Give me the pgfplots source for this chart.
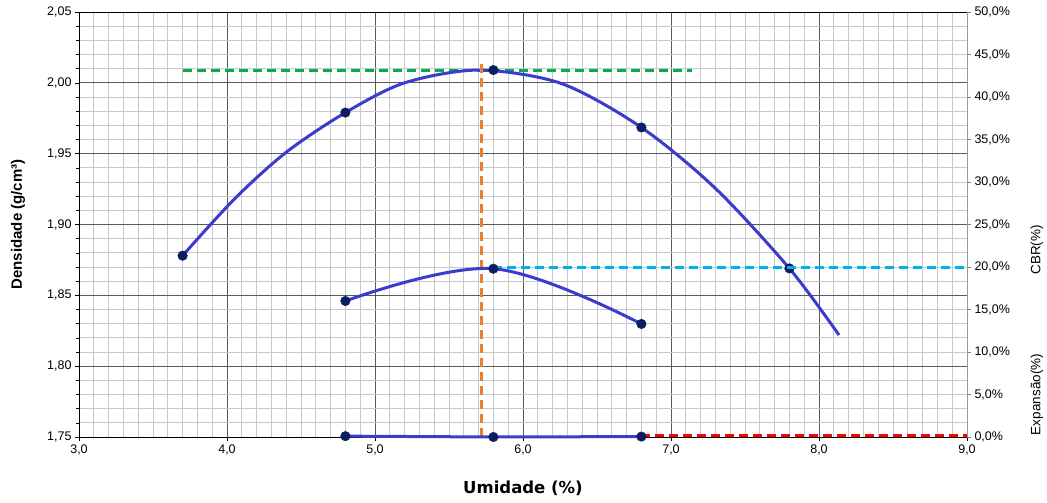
\documentclass[border=0pt]{standalone}
\usepackage{fontspec}
\setmainfont{Liberation Sans}
\newfontfamily\dejavu{DejaVu Sans}
\usepackage{pgfplots}
\pgfplotsset{compat=1.18}
\definecolor{curve}{HTML}{3B3BCC}
\definecolor{mk}{HTML}{0B1F5E}
\definecolor{grn}{HTML}{00B050}
\definecolor{org}{HTML}{ED7D31}
\definecolor{cyn}{HTML}{00B0F0}
\definecolor{redd}{HTML}{FF0000}
\definecolor{majgrid}{HTML}{5A5A5A}
\definecolor{mingrid}{HTML}{C8C8C8}
\begin{document}
\begin{tikzpicture}
\begin{axis}[name=main, scale only axis, width=888pt, height=425pt,
  xmin=3, xmax=9, ymin=1.75, ymax=2.05,
  xtick={3,4,5,6,7,8,9}, ytick={1.75,1.80,1.85,1.90,1.95,2.00,2.05},
  minor x tick num=9, minor y tick num=4,
  grid=both,
  major grid style={draw=majgrid, line width=0.7pt},
  minor grid style={draw=mingrid, line width=0.7pt},
  axis line style={black, line width=0.9pt},
  xtick pos=bottom, ytick pos=left, tick align=outside,
  major tick length=4pt, minor tick length=3pt,
  minor x tick style={draw=none},
  tick style={black, line width=0.6pt},
  /pgf/number format/assume math mode=true,
  ticklabel style={font=\fontsize{12.5}{14}\selectfont},
  xticklabel style={/pgf/number format/.cd, fixed, fixed zerofill, precision=1, use comma},
  yticklabel style={/pgf/number format/.cd, fixed, fixed zerofill, precision=2, use comma},
  xlabel={\dejavu\bfseries Umidade (\%)},
  xlabel style={at={(axis description cs:0.5,-0.12)}, anchor=center, font=\fontsize{16.5}{18}\selectfont},
  ylabel={\bfseries Densidade (g/cm³)},
  ylabel style={at={(axis description cs:-0.0687,0.5)}, anchor=center, font=\fontsize{15}{17}\selectfont},
]
% green dashed (max density)
\addplot[grn, line width=3pt, dash pattern=on 9pt off 5pt] coordinates {(3.7,2.009) (7.14,2.009)};
% density curve
\addplot[curve, line width=3pt, smooth, tension=0.5] coordinates {
  (3.7,1.878) (4.05,1.918) (4.4,1.951) (4.8,1.979) (5.2,2.000) (5.7,2.009)
  (6.26,1.9995) (6.8,1.9685) (7.3,1.9255) (7.8,1.869) (8.135,1.822)};
% orange vertical dashed (optimum moisture)
\addplot[org, line width=3pt, dash pattern=on 9pt off 5pt] coordinates {(5.72,1.75) (5.72,2.014)};
% density markers
\addplot[only marks, mark=*, mark size=4.8pt, mk, mark options={fill=mk}] coordinates {
  (3.7,1.878) (4.8,1.979) (5.8,2.009) (6.8,1.9685) (7.8,1.869)};
\end{axis}
\begin{axis}[scale only axis, width=888pt, height=425pt,
  xmin=3, xmax=9, ymin=0, ymax=50, clip=false,
  axis x line=none, axis y line*=right,
  y axis line style={draw=gray!80, line width=0.9pt},
  ytick={0,5,...,50}, tick align=outside, major tick length=4pt,
  tick style={gray, line width=0.6pt},
  /pgf/number format/assume math mode=true,
  ticklabel style={font=\fontsize{12.5}{14}\selectfont},
  yticklabel={\pgfmathprintnumber[fixed,fixed zerofill,precision=1,use comma]{\tick}\%},
]
\addplot[cyn, line width=3pt, dash pattern=on 9pt off 5pt] coordinates {(5.8,19.9) (9.0,19.9)};
\addplot[redd, line width=3pt, dash pattern=on 9pt off 5pt] coordinates {(6.8,0.12) (9.0,0.12)};
\addplot[curve, line width=3pt, smooth, tension=0.6] coordinates {(4.8,16.0) (5.8,19.8) (6.8,13.3)};
\addplot[curve, line width=3pt] coordinates {(4.8,0.1) (5.8,0.0) (6.8,0.05)};
\addplot[only marks, mark=*, mark size=4.8pt, mk, mark options={fill=mk}] coordinates {(4.8,16.0) (5.8,19.8) (6.8,13.3)};
\addplot[only marks, mark=*, mark size=4.8pt, mk, mark options={fill=mk}] coordinates {(4.8,0.1) (5.8,0.0) (6.8,0.05)};
\node[rotate=90, anchor=center, font=\fontsize{13.5}{15}\selectfont] at (axis description cs:1.0788,0.44) {CBR(\%)};
\node[rotate=90, anchor=center, font=\fontsize{13.5}{15}\selectfont] at (axis description cs:1.0788,0.10) {Expansão(\%)};
\end{axis}
\path ([xshift=-79pt,yshift=-66pt]main.south west) rectangle ([xshift=80pt,yshift=12pt]main.north east);
\end{tikzpicture}
\end{document}
